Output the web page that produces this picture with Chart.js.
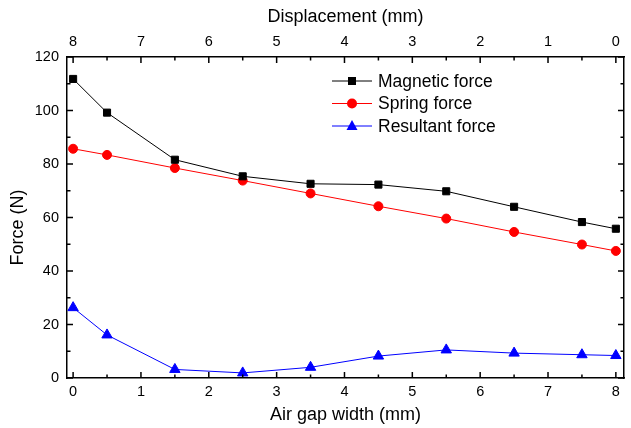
<!DOCTYPE html>
<html>
<head>
<meta charset="utf-8">
<script src="https://cdn.jsdelivr.net/npm/chart.js@4.4.1/dist/chart.umd.min.js"></script>
<style>
html, body { margin: 0; padding: 0; background: #fff; }
</style>
</head>
<body>
<canvas id="forceChart" width="631" height="428"></canvas>
<script>
const gapWidth = [0, 0.5, 1.5, 2.5, 3.5, 4.5, 5.5, 6.5, 7.5, 8];
const magneticForce = [111.8, 99.2, 81.6, 75.4, 72.6, 72.3, 69.8, 64.0, 58.3, 55.8];
const springForce = [85.7, 83.4, 78.5, 73.8, 69.0, 64.2, 59.6, 54.6, 49.9, 47.5];
const resultantForce = [26.3, 16.1, 3.2, 1.9, 4.0, 8.2, 10.5, 9.3, 8.7, 8.4];

const gapTicks = [0, 1, 2, 3, 4, 5, 6, 7, 8];
const displacementLabels = ["8", "7", "6", "5", "4", "3", "2", "1", "0"];
const forceTicks = [0, 20, 40, 60, 80, 100, 120];

const FONT = "'Liberation Sans', Arial, sans-serif";

function toPoints(ys) {
    return gapWidth.map((x, i) => ({ x: x, y: ys[i] }));
}

// ticks pointing into the plot on all four sides, with a short one half way
const innerTicks = {
    id: "innerTicks",
    afterDatasetsDraw(chart) {
        const { ctx, chartArea: a, scales } = chart;
        ctx.save();
        ctx.strokeStyle = "#000";
        ctx.lineWidth = 1.5;
        ctx.beginPath();
        gapTicks.forEach((v, i) => {
            const marks = [[v, 6]];
            if (i < gapTicks.length - 1) marks.push([(v + gapTicks[i + 1]) / 2, 3.5]);
            marks.forEach(([val, len]) => {
                const px = scales.x.getPixelForValue(val);
                ctx.moveTo(px, a.bottom); ctx.lineTo(px, a.bottom - len);
                ctx.moveTo(px, a.top); ctx.lineTo(px, a.top + len);
            });
        });
        forceTicks.forEach((v, i) => {
            const marks = [[v, 6]];
            if (i < forceTicks.length - 1) marks.push([(v + forceTicks[i + 1]) / 2, 3.5]);
            marks.forEach(([val, len]) => {
                const py = scales.y.getPixelForValue(val);
                ctx.moveTo(a.left, py); ctx.lineTo(a.left + len, py);
                ctx.moveTo(a.right, py); ctx.lineTo(a.right - len, py);
            });
        });
        ctx.stroke();
        ctx.restore();
    }
};

// legend drawn inside the plot, line + marker like the original
const insideLegend = {
    id: "insideLegend",
    afterDatasetsDraw(chart) {
        const { ctx, chartArea: a } = chart;
        const x0 = a.right - 292, x1 = a.right - 252, tx = a.right - 246;
        const cx = (x0 + x1) / 2;
        ctx.save();
        ctx.font = "17.5px " + FONT;
        ctx.textBaseline = "middle";
        chart.data.datasets.forEach((ds, i) => {
            const y = a.top + 24 + i * 22.5;
            ctx.strokeStyle = ds.borderColor;
            ctx.lineWidth = 1;
            ctx.beginPath();
            ctx.moveTo(x0, y); ctx.lineTo(x1, y);
            ctx.stroke();
            ctx.fillStyle = ds.borderColor;
            ctx.beginPath();
            if (ds.pointStyle === "rect") {
                ctx.rect(cx - 4, y - 4, 8, 8);
            } else if (ds.pointStyle === "circle") {
                ctx.arc(cx, y, 5, 0, Math.PI * 2);
            } else {
                ctx.moveTo(cx, y - 6);
                ctx.lineTo(cx + 5.5, y + 4);
                ctx.lineTo(cx - 5.5, y + 4);
                ctx.closePath();
            }
            ctx.fill();
            ctx.fillStyle = "#000";
            ctx.fillText(ds.label, tx, y + 1);
        });
        ctx.restore();
    }
};

const ctx = document.getElementById("forceChart").getContext("2d");

new Chart(ctx, {
    type: "line",
    data: {
        datasets: [
            {
                label: "Magnetic force",
                data: toPoints(magneticForce),
                borderColor: "#000000",
                backgroundColor: "#000000",
                borderWidth: 1,
                pointStyle: "rect",
                pointRadius: 5,
                pointBorderWidth: 1
            },
            {
                label: "Spring force",
                data: toPoints(springForce),
                borderColor: "#ff0000",
                backgroundColor: "#ff0000",
                borderWidth: 1,
                pointStyle: "circle",
                pointRadius: 4.5,
                pointBorderWidth: 1
            },
            {
                label: "Resultant force",
                data: toPoints(resultantForce),
                borderColor: "#0000ff",
                backgroundColor: "#0000ff",
                borderWidth: 1,
                pointStyle: "triangle",
                pointRadius: 6,
                pointBorderWidth: 1
            }
        ]
    },
    options: {
        responsive: false,
        animation: false,
        layout: { padding: 0 },
        plugins: {
            legend: { display: false },
            tooltip: { enabled: false }
        },
        scales: {
            x: {
                type: "linear",
                position: "bottom",
                min: -0.09,
                max: 8.12,
                afterBuildTicks: s => { s.ticks = gapTicks.map(v => ({ value: v })); },
                afterFit: s => { s.height = 50; },
                grid: { drawOnChartArea: false, drawTicks: false },
                border: { display: true, color: "#000", width: 1.5 },
                ticks: { font: { family: FONT, size: 14.5 }, color: "#000", padding: 5, maxRotation: 0, autoSkip: false },
                title: { display: true, text: "Air gap width (mm)", color: "#000", font: { family: FONT, size: 18 }, padding: { top: 0, bottom: 2 } }
            },
            x2: {
                type: "linear",
                position: "top",
                min: -0.09,
                max: 8.12,
                afterBuildTicks: s => { s.ticks = gapTicks.map(v => ({ value: v })); },
                afterFit: s => { s.height = 57; },
                grid: { drawOnChartArea: false, drawTicks: false },
                border: { display: true, color: "#000", width: 1.5 },
                ticks: {
                    font: { family: FONT, size: 14.5 }, color: "#000", padding: 6, maxRotation: 0, autoSkip: false,
                    callback: (value, index) => displacementLabels[index]
                },
                title: { display: true, text: "Displacement (mm)", color: "#000", font: { family: FONT, size: 18 }, padding: { top: 6, bottom: 0 } }
            },
            y: {
                position: "left",
                min: 0,
                max: 120,
                afterBuildTicks: s => { s.ticks = forceTicks.map(v => ({ value: v })); },
                afterFit: s => { s.width = 67; },
                grid: { drawOnChartArea: false, drawTicks: false },
                border: { display: true, color: "#000", width: 1.5 },
                ticks: { font: { family: FONT, size: 14.5 }, color: "#000", padding: 8 },
                // trailing spaces nudge the rotated title down a little, as in the original
                title: { display: true, text: "Force (N)    ", color: "#000", font: { family: FONT, size: 18 }, padding: { top: 7, bottom: 0 } }
            },
            y2: {
                position: "right",
                min: 0,
                max: 120,
                afterFit: s => { s.width = 6; },
                grid: { drawOnChartArea: false, drawTicks: false },
                border: { display: true, color: "#000", width: 1.5 },
                ticks: { display: false }
            }
        }
    },
    plugins: [innerTicks, insideLegend]
});
</script>
</body>
</html>
